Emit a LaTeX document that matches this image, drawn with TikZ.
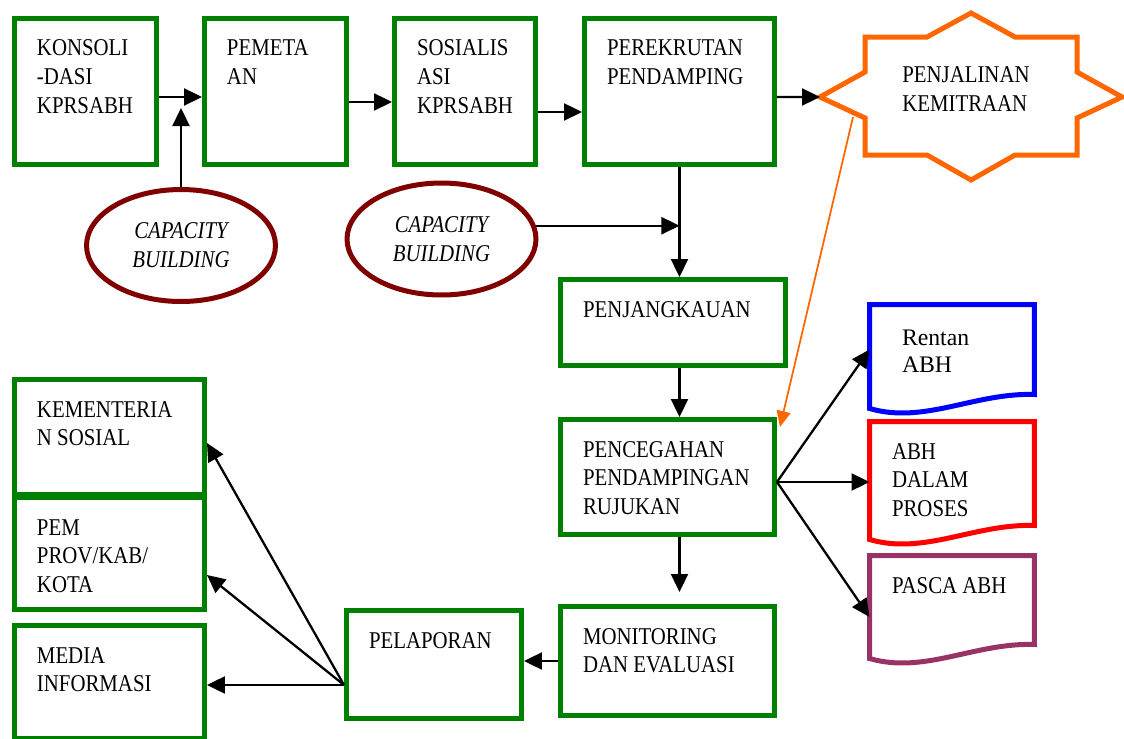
\documentclass[tikz,border=0pt]{standalone}
\usepackage{fontspec}
\setmainfont{Liberation Serif}[FakeStretch=0.865]
\newfontfamily\rentanfont{Liberation Serif}
\usepackage{tikz}
\usetikzlibrary{arrows.meta, shapes.geometric}
\definecolor{kgreen}{RGB}{0,128,0}
\definecolor{kmaroon}{RGB}{128,0,0}
\definecolor{korange}{RGB}{255,102,0}
\definecolor{kpurple}{RGB}{153,51,102}
\newcommand*{\boxfont}{\fontsize{13.7pt}{16.4pt}\selectfont}
\tikzstyle{block} = [anchor=north west, align=flush left, inner sep=4.5mm, text height=3mm, font=\boxfont]
\tikzstyle{box} = [draw=kgreen, line width=1mm, block]
\tikzstyle{docbox} = [block, outer sep=0pt]
\tikzstyle{docline} = [line width=1mm]
\tikzstyle{capacity} = [draw=kmaroon, line width=1mm, ellipse, minimum width=37.8mm, minimum height=22.4mm, inner sep=0pt, align=center, font=\boxfont\itshape]
\tikzstyle{starline} = [draw=korange, line width=1mm]
\tikzstyle{link} = [-{Triangle[length=3.6mm, width=3.4mm]}, line width=1.3pt]
\tikzstyle{orangelink} = [-{Triangle[length=3.2mm, width=2.8mm]}, draw=korange, fill=korange, line width=1pt]

\begin{document}
\begin{tikzpicture}[x=0.02cm, y=-0.02cm]
    \useasboundingbox (0,0) rectangle (1124,738);

    % Top row.
    \node (konsol) [box, text width=19.4mm, text depth=17.2mm] at (12,16) {KONSOLI\\-DASI\\KPRSABH};
    \node (pemeta) [box, text width=19.4mm, text depth=17.2mm] at (202,16) {PEMETA\\AN};
    \node (sosial) [box, text width=19.2mm, text depth=17.2mm] at (392,16) {SOSIALIS\\ASI\\KPRSABH};
    \node (rekrut) [box, text width=29mm, text depth=17.2mm] at (582,16) {PEREKRUTAN\\PENDAMPING};

    % Star.
    \draw [starline] (820,97) -- (865,72) -- (865,37) -- (927,37) -- (971,13) -- (1015,37)
        -- (1077,37) -- (1077,72) -- (1122,97) -- (1077,118) -- (1077,155) -- (1015,155)
        -- (971,180) -- (927,155) -- (865,155) -- (865,118) -- cycle;
    \node (mitra) [block, inner sep=0pt, text width=26mm] at (902,67) {PENJALINAN\\KEMITRAAN};
    \coordinate (mitraW) at (820,97);
    \coordinate (mitraS) at (853,117);

    % Capacity building.
    \node (cb1) [capacity] at (181,245.5) {CAPACITY\\BUILDING};
    \node (cb2) [capacity] at (441.5,239) {CAPACITY\\BUILDING};
    \coordinate (joinA) at (181,108);

    % Middle column.
    \node (jangkau) [box, text width=36mm, text depth=5.2mm] at (558,277) {PENJANGKAUAN};
    \node (cegah) [box, text width=33.8mm, text depth=11mm] at (558,417) {PENCEGAHAN\\PENDAMPINGAN\\RUJUKAN};
    \node (monev) [box, text width=33.8mm, text depth=9.8mm] at (558,604) {MONITORING\\DAN EVALUASI};
    \node (lapor) [box, text width=26mm, text depth=9.6mm] at (344,608) {PELAPORAN};

    % Left column.
    \node (kemsos) [box, text width=29mm, text depth=11mm] at (12,377) {KEMENTERIA\\N SOSIAL};
    \node (pemprov) [box, text width=29mm, text depth=10.4mm] at (12,495) {PEM\\PROV/KAB/\\KOTA};
    \node (media) [box, text width=29mm, text depth=10.6mm] at (12,623) {MEDIA\\INFORMASI};

    % Documents.
    \node (rentan) [docbox, inner xsep=6.5mm, text width=20mm, text height=3.6mm, text depth=5.4mm,
        font=\rentanfont\fontsize{13.5pt}{15.9pt}\selectfont] at (869.5,304.5) {Rentan\\ABH};
    \node (proses) [docbox, text width=24mm, text depth=8.8mm] at (869.5,421.5) {ABH\\DALAM\\PROSES};
    \node (pasca) [docbox, text width=24mm, text depth=5.8mm] at (869.5,555.5) {PASCA ABH};
    \foreach \n/\c in {rentan/blue, proses/red, pasca/kpurple} {
        \draw [docline, \c] (\n.north west) -- (\n.north east) -- (\n.south east)
            .. controls ([shift={(-60,-2)}]\n.south east) and ([shift={(55,30)}]\n.south west)
            .. ([shift={(0,14)}]\n.south west) -- cycle;
    }

    % Arrows.
    \draw [link] ([yshift=-1.1mm]konsol.east) -- ([yshift=-1.1mm]pemeta.west);
    \draw [link] ([yshift=-2.1mm]pemeta.east) -- ([yshift=-2.1mm]sosial.west);
    \draw [link] ([yshift=-4.1mm]sosial.east) -- ([yshift=-4.1mm]rekrut.west);
    \draw [link] ([yshift=-1.1mm]rekrut.east) -- (mitraW);
    \draw [link] (cb1.north) -- (joinA);
    \draw [link] (rekrut.south) -- (rekrut.south |- jangkau.north);
    \draw [link] (cb2.8) -- (cb2.8 -| rekrut.south);
    \draw [link] (rekrut.south |- jangkau.south) -- (rekrut.south |- cegah.north);
    \draw [link, shorten >=2.4mm] (rekrut.south |- cegah.south) -- (rekrut.south |- monev.north);
    \draw [link] (monev.west) -- (monev.west -| lapor.east);

    \draw [link] ([yshift=-4.1mm]lapor.west) -- ([yshift=-1.2mm]kemsos.east);
    \draw [link] ([yshift=-4.1mm]lapor.west) -- ([yshift=-4.3mm]pemprov.east);
    \draw [link] ([yshift=-4.1mm]lapor.west) -- ([yshift=-4.1mm]lapor.west -| media.east);

    \draw [link] ([yshift=-1mm]cegah.east) -- (rentan.west);
    \draw [link] ([yshift=-1mm]cegah.east) -- ([yshift=-1mm]cegah.east -| proses.west);
    \draw [link] ([yshift=-1mm]cegah.east) -- ([yshift=-3.4mm]pasca.west);

    \draw [orangelink] (mitraS) -- ([shift={(3,10)}]cegah.north east);
\end{tikzpicture}
\end{document}
